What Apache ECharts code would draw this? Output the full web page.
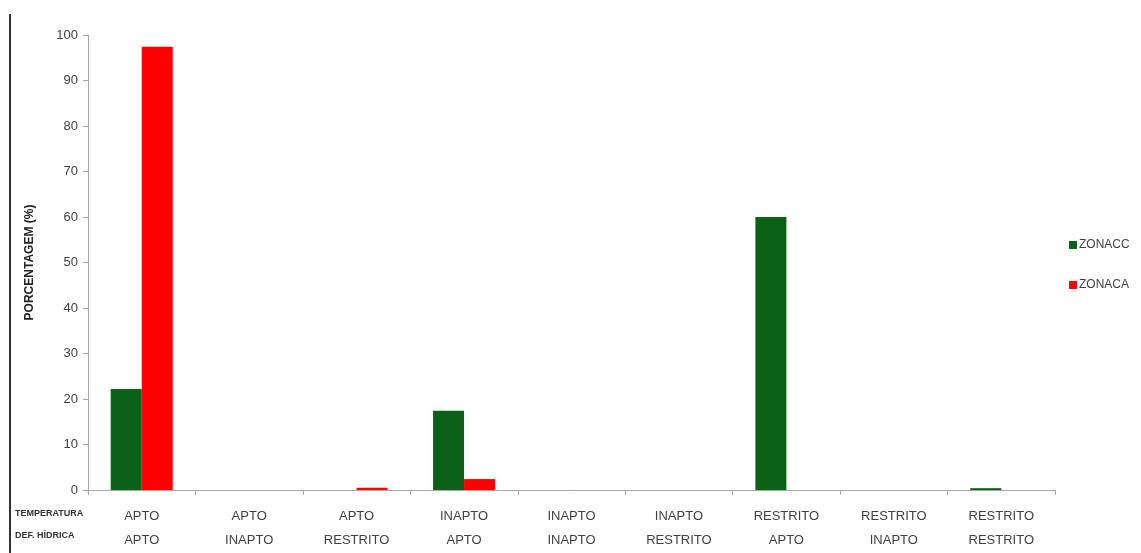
<!DOCTYPE html>
<html><head><meta charset="utf-8">
<script src="https://cdn.jsdelivr.net/npm/echarts@6/dist/echarts.min.js"></script>
<style>html,body{margin:0;padding:0;background:#fff}#c{width:1141px;height:553px}</style>
</head><body><div id="c"></div>
<script>
const temperatura = ['APTO','APTO','APTO','INAPTO','INAPTO','INAPTO','RESTRITO','RESTRITO','RESTRITO'];
const defHidrica = ['APTO','INAPTO','RESTRITO','APTO','INAPTO','RESTRITO','APTO','INAPTO','RESTRITO'];
const zonacc = [22.2, 0, 0, 17.4, 0, 0, 60, 0, 0.4];
const zonaca = [97.4, 0, 0.5, 2.4, 0, 0, 0, 0, 0];
const yTicks = [0,10,20,30,40,50,60,70,80,90,100];

const categories = temperatura.map((t,i)=>t+'\n'+defHidrica[i]);
const font = "'Liberation Sans Narrow','Liberation Sans',sans-serif";
const chart = echarts.init(document.getElementById('c'));
chart.setOption({
  animation:false,
  grid:{left:88,right:86,top:35,bottom:63},
  legend:{orient:'vertical',left:1064,top:234,itemWidth:8,itemHeight:8,itemGap:28,icon:'rect',
    textStyle:{fontFamily:font,fontSize:12,color:'#404040',padding:[0,0,0,-3]},data:['ZONACC','ZONACA']},
  xAxis:{type:'category',data:categories,
    axisLine:{lineStyle:{color:'#a6a6a6',width:1}},
    axisTick:{show:true,length:5,lineStyle:{color:'#a6a6a6'}},
    axisLabel:{fontFamily:font,fontSize:13,color:'#404040',lineHeight:24,margin:14}},
  yAxis:{type:'value',min:0,max:100,interval:10,
    name:'PORCENTAGEM (%)',nameLocation:'middle',nameGap:52,nameRotate:90,
    nameTextStyle:{fontFamily:font,fontSize:12,fontWeight:'bold',color:'#222'},
    axisLine:{show:true,lineStyle:{color:'#a6a6a6'}},
    axisTick:{show:true,length:5,inside:false,lineStyle:{color:'#a6a6a6'}},
    splitLine:{show:false},
    axisLabel:{fontFamily:font,fontSize:13,color:'#404040',margin:10,
      formatter:v=>yTicks.includes(v)?String(v):''}},
  series:[
    {name:'ZONACC',type:'bar',data:zonacc,itemStyle:{color:'#0b6116'},barWidth:31,barGap:'0%'},
    {name:'ZONACA',type:'bar',data:zonaca,itemStyle:{color:'#ff0000'},barWidth:31}
  ],
  graphic:[
    {type:'line',shape:{x1:10,y1:14,x2:10,y2:553},style:{stroke:'#333',lineWidth:2}},
    {type:'text',left:15,top:503,style:{text:'TEMPERATURA\nDEF. HÍDRICA',fontFamily:font,fontSize:9,fontWeight:'bold',lineHeight:22,fill:'#333'}}
  ]
});
</script></body></html>
